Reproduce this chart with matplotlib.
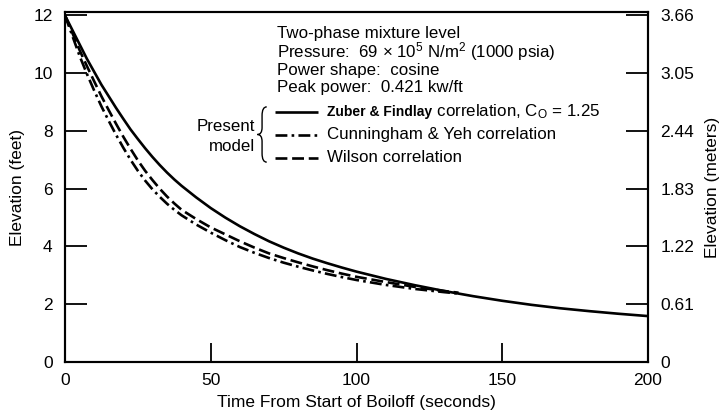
import matplotlib
matplotlib.use("Agg")
import matplotlib.pyplot as plt
from matplotlib.path import Path
from matplotlib.patches import PathPatch

plt.rcParams['font.family'] = ['Liberation Sans', 'DejaVu Sans']
plt.rcParams['mathtext.fontset'] = 'custom'
plt.rcParams['mathtext.rm'] = 'Liberation Sans'
plt.rcParams['mathtext.bf'] = 'Liberation Sans:bold'
plt.rcParams['mathtext.it'] = 'Liberation Sans:italic'

# ---- data ----
t_zuber = [0, 2.5, 5, 7.5, 10, 12.5, 15, 17.5, 20, 22.5, 25, 27.5, 30, 32.5, 35, 37.5,
           40, 45, 50, 55, 60, 65, 70, 75, 80, 85, 90, 95, 100, 110, 120, 130, 140,
           150, 160, 170, 180, 190, 200]
e_zuber = [12.0, 11.5, 11.0, 10.5, 10.05, 9.6, 9.2, 8.8, 8.42, 8.05, 7.72, 7.4, 7.1,
           6.82, 6.56, 6.32, 6.1, 5.7, 5.33, 5.0, 4.7, 4.43, 4.18, 3.96, 3.76, 3.58,
           3.42, 3.27, 3.13, 2.88, 2.66, 2.46, 2.28, 2.12, 1.98, 1.86, 1.76, 1.67, 1.59]

t_cy = [0, 2.5, 5, 7.5, 10, 12.5, 15, 17.5, 20, 22.5, 25, 27.5, 30, 32.5, 35, 37.5,
        40, 45, 50, 55, 60, 65, 70, 75, 80, 85, 90, 95, 100, 110, 120, 130, 135]
e_cy = [12.0, 11.3, 10.6, 9.98, 9.4, 8.85, 8.35, 7.87, 7.42, 7.0, 6.62, 6.28, 5.98,
        5.72, 5.48, 5.27, 5.08, 4.76, 4.48, 4.22, 3.98, 3.78, 3.6, 3.44, 3.3, 3.17,
        3.05, 2.94, 2.84, 2.67, 2.53, 2.42, 2.37]

t_wil = [0, 2.5, 5, 7.5, 10, 12.5, 15, 17.5, 20, 22.5, 25, 27.5, 30, 32.5, 35, 37.5,
         40, 45, 50, 55, 60, 65, 70, 75, 80, 85, 90, 95, 100, 110, 120, 130, 135]
e_wil = [12.0, 11.4, 10.8, 10.25, 9.72, 9.2, 8.72, 8.25, 7.8, 7.38, 6.98, 6.62, 6.3,
         6.0, 5.73, 5.49, 5.27, 4.95, 4.66, 4.42, 4.18, 3.96, 3.76, 3.6, 3.45, 3.31,
         3.18, 3.06, 2.95, 2.77, 2.6, 2.46, 2.4]

x_ticks = [0, 50, 100, 150, 200]
y_ticks = [0, 2, 4, 6, 8, 10, 12]
y_right_labels = ['0', '0.61', '1.22', '1.83', '2.44', '3.05', '3.66']

info_lines = ['Two-phase mixture level',
              'Pressure:  69 $\\times$ 10$^5$ N/m$^2$ (1000 psia)',
              'Power shape:  cosine',
              'Peak power:  0.421 kw/ft']
legend_bold = ['Zuber & Findlay', '', '']
legend_labels = [' correlation, C$_\\mathrm{O}$ = 1.25',
                 'Cunningham & Yeh correlation',
                 'Wilson correlation']

# ---- figure ----
fig = plt.figure(figsize=(7.2, 4.11), dpi=100)
ax = fig.add_axes([0.0903, 0.1192, 0.8097, 0.8516])

lw = 1.9
solid_style = '-'
dashdot_style = (0, (4.5, 1.6, 1.0, 1.6))
dash_style = (0, (4.5, 1.8))
ax.plot(t_zuber, e_zuber, color='black', lw=lw, linestyle=solid_style, solid_capstyle='butt')
ax.plot(t_cy, e_cy, color='black', lw=lw, linestyle=dashdot_style, dash_capstyle='butt')
ax.plot(t_wil, e_wil, color='black', lw=lw, linestyle=dash_style, dash_capstyle='butt')

fs_tick = 12.5
fs_lab = 12.5
fs_ann = 12.2

ax.set_xlim(0, 200)
ax.set_ylim(0, 12.12)
ax.set_xticks(x_ticks)
ax.set_yticks(y_ticks)
for s in ax.spines.values():
    s.set_linewidth(1.5)
ax.tick_params(axis='both', direction='in', width=1.3, labelsize=fs_tick)
ax.tick_params(axis='y', length=16, pad=9)
ax.tick_params(axis='x', length=14, pad=8)
ax.set_xlabel('Time From Start of Boiloff (seconds)', fontsize=fs_lab, labelpad=5)
ax.set_ylabel('Elevation (feet)', fontsize=fs_lab, labelpad=6)

ax2 = ax.twinx()
ax2.set_ylim(ax.get_ylim())
ax2.set_yticks(y_ticks)
ax2.set_yticklabels(y_right_labels)
ax2.tick_params(axis='y', direction='in', length=16, width=1.3, labelsize=fs_tick, pad=9)
ax2.set_ylabel('Elevation (meters)', fontsize=fs_lab, labelpad=8)
for s in ax2.spines.values():
    s.set_linewidth(1.5)

# info text
info_y = [0.94, 0.886, 0.834, 0.783]
for txt, yy in zip(info_lines, info_y):
    ax.text(0.364, yy, txt, transform=ax.transAxes, fontsize=fs_ann, va='center', ha='left')

# legend (manual)
leg_y = [0.714, 0.649, 0.583]
styles = [solid_style, dashdot_style, dash_style]
for bold, lab, yy, st in zip(legend_bold, legend_labels, leg_y, styles):
    ax.plot([0.360, 0.434], [yy, yy], transform=ax.transAxes, color='black', lw=lw,
            linestyle=st, dash_capstyle='butt', solid_capstyle='butt', clip_on=False)
    if bold:
        tb = ax.text(0.449, yy, bold, transform=ax.transAxes, fontsize=10,
                     fontweight='bold', va='center', ha='left')
        ax.annotate(lab, xycoords=tb, xy=(1, 0.5), va='center', ha='left', fontsize=fs_ann)
    else:
        ax.text(0.449, yy, lab, transform=ax.transAxes, fontsize=fs_ann, va='center', ha='left')

ax.text(0.326, 0.672, 'Present', transform=ax.transAxes, fontsize=fs_ann, va='center', ha='right')
ax.text(0.326, 0.617, 'model', transform=ax.transAxes, fontsize=fs_ann, va='center', ha='right')

# brace
bx, by0, by1 = 0.346, 0.571, 0.729
ym = (by0 + by1) / 2
w = 0.008
verts = [(bx, by1), (bx - w, by1), (bx - w, by1 - 0.025),
         (bx - w, ym + 0.02), (bx - w, ym), (bx - 2 * w, ym),
         (bx - w, ym), (bx - w, ym - 0.02),
         (bx - w, by0 + 0.025), (bx - w, by0), (bx, by0)]
codes = [Path.MOVETO, Path.CURVE3, Path.CURVE3,
         Path.LINETO, Path.CURVE3, Path.CURVE3,
         Path.CURVE3, Path.CURVE3,
         Path.LINETO, Path.CURVE3, Path.CURVE3]
ax.add_patch(PathPatch(Path(verts, codes), transform=ax.transAxes, fill=False,
                       lw=1.0, color='black', clip_on=False))

fig.savefig('out.png', dpi=100)
